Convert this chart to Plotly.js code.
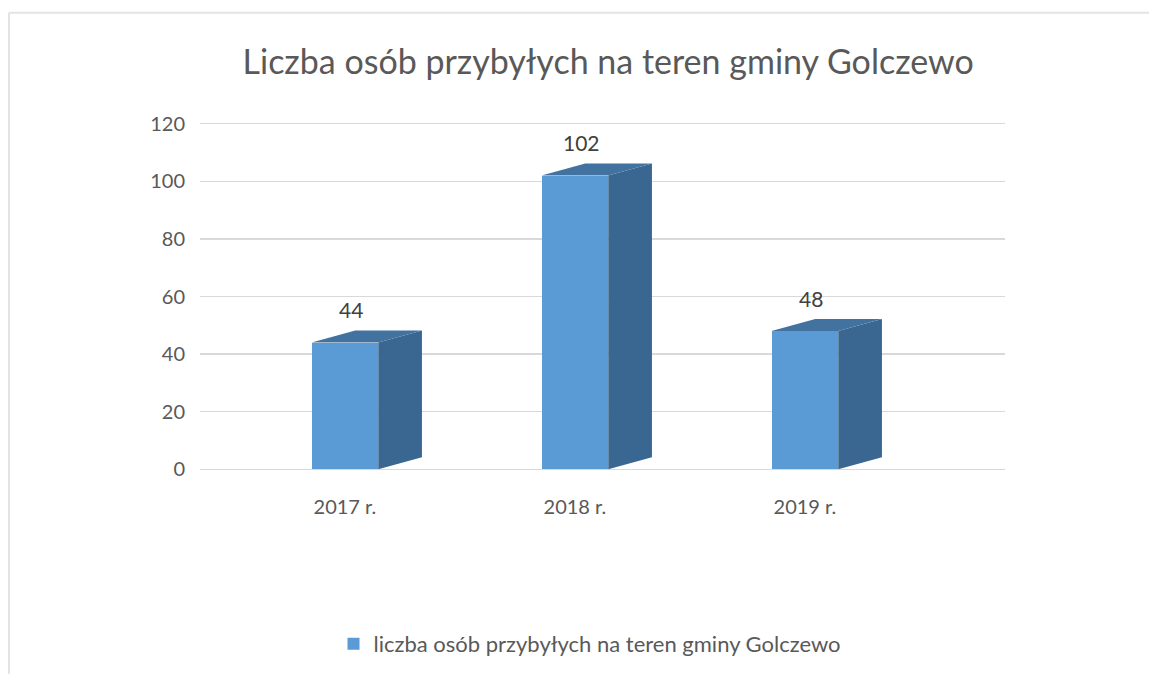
<!DOCTYPE html>
<html>
<head>
<meta charset="utf-8">
<script src="https://cdn.plot.ly/plotly-3.0.1.min.js"></script>
<style>html,body{margin:0;padding:0;background:#fff;}#chart{width:1149px;height:677px;}</style>
</head>
<body>
<div id="chart"></div>
<script>
var categories = ['2017 r.', '2018 r.', '2019 r.'];
var values = [44, 102, 48];
var seriesName = 'liczba osób przybyłych na teren gminy Golczewo';
var titleText = 'Liczba osób przybyłych na teren gminy Golczewo';
var yTicks = [0, 20, 40, 60, 80, 100, 120];

var frontColor = '#5b9bd5', sideColor = '#3a6791', topColor = '#4272a0';
var fontFam = 'Lato, "Open Sans", sans-serif';
var textColor = '#595959';

// layout geometry (pixels)
var W = 1149, H = 677;
var M = {l: 200, r: 144, t: 122, b: 204};
var barWidth = 0.29;      // in category units
var depthX = 0.19;        // oblique depth, category units
var depthY = 4.2;         // oblique depth, value units

var positions = categories.map(function (c, i) { return i; });

var bars = {
  type: 'bar', x: positions, y: values, width: barWidth, name: seriesName,
  marker: {color: frontColor, line: {width: 0}}, hoverinfo: 'skip', showlegend: true
};

var shapes = [];
positions.forEach(function (p, i) {
  var v = values[i];
  var x0 = p - barWidth / 2, x1 = p + barWidth / 2;
  shapes.push({type: 'path', xref: 'x', yref: 'y', layer: 'above', line: {width: 0}, fillcolor: sideColor,
    path: 'M' + x1 + ',0 L' + (x1 + depthX) + ',' + depthY + ' L' + (x1 + depthX) + ',' + (v + depthY) + ' L' + x1 + ',' + v + ' Z'});
  shapes.push({type: 'path', xref: 'x', yref: 'y', layer: 'above', line: {width: 0}, fillcolor: topColor,
    path: 'M' + x0 + ',' + v + ' L' + (x0 + depthX) + ',' + (v + depthY) + ' L' + (x1 + depthX) + ',' + (v + depthY) + ' L' + x1 + ',' + v + ' Z'});
});

// chart-area frame (top and left edges only, as in the reference)
var pw = W - M.l - M.r, ph = H - M.t - M.b;
function px2paperX(px) { return (px - M.l) / pw; }
function px2paperY(py) { return (H - M.b - py) / ph; }
shapes.push({type: 'line', xref: 'paper', yref: 'paper', x0: px2paperX(9), x1: px2paperX(W), y0: px2paperY(12), y1: px2paperY(12),
  line: {color: '#e3e3e3', width: 2}});
shapes.push({type: 'line', xref: 'paper', yref: 'paper', x0: px2paperX(9), x1: px2paperX(9), y0: px2paperY(12), y1: px2paperY(H),
  line: {color: '#e3e3e3', width: 2}});

var annotations = positions.map(function (p, i) {
  return {x: p + depthX * 0.15, y: values[i] + depthY, xref: 'x', yref: 'y', text: String(values[i]), showarrow: false,
    yanchor: 'bottom', yshift: 6, font: {family: fontFam, size: 21, color: '#404040'}};
});

var layout = {
  width: W, height: H,
  paper_bgcolor: '#ffffff', plot_bgcolor: '#ffffff',
  margin: M,
  title: {text: titleText, x: 0.507, xanchor: 'center', xref: 'paper', y: 1 - 62 / H, yanchor: 'middle', yref: 'container',
          font: {family: fontFam, size: 34, color: textColor}},
  showlegend: true,
  legend: {orientation: 'h', x: 0.5 + (590 - (M.l + pw / 2)) / pw, xanchor: 'center', y: px2paperY(647), yanchor: 'middle',
           font: {family: fontFam, size: 22, color: textColor}, itemwidth: 30},
  xaxis: {range: [-0.63, 2.87], tickvals: positions, ticktext: categories, showgrid: false, zeroline: false,
          showline: false, ticks: '', ticklabelstandoff: 22, tickfont: {family: fontFam, size: 20, color: textColor}, fixedrange: true},
  yaxis: {range: [-0.6, 120.6], tickvals: yTicks, showgrid: true, gridcolor: '#d9d9d9', gridwidth: 1.5,
          zeroline: true, zerolinecolor: '#d9d9d9', zerolinewidth: 1.5,
          showline: false, ticks: '', ticklabelstandoff: 14, tickfont: {family: fontFam, size: 20, color: textColor}, fixedrange: true},
  shapes: shapes,
  annotations: annotations,
  bargap: 0
};

Plotly.newPlot('chart', [bars], layout, {displayModeBar: false, staticPlot: true});
</script>
</body>
</html>
